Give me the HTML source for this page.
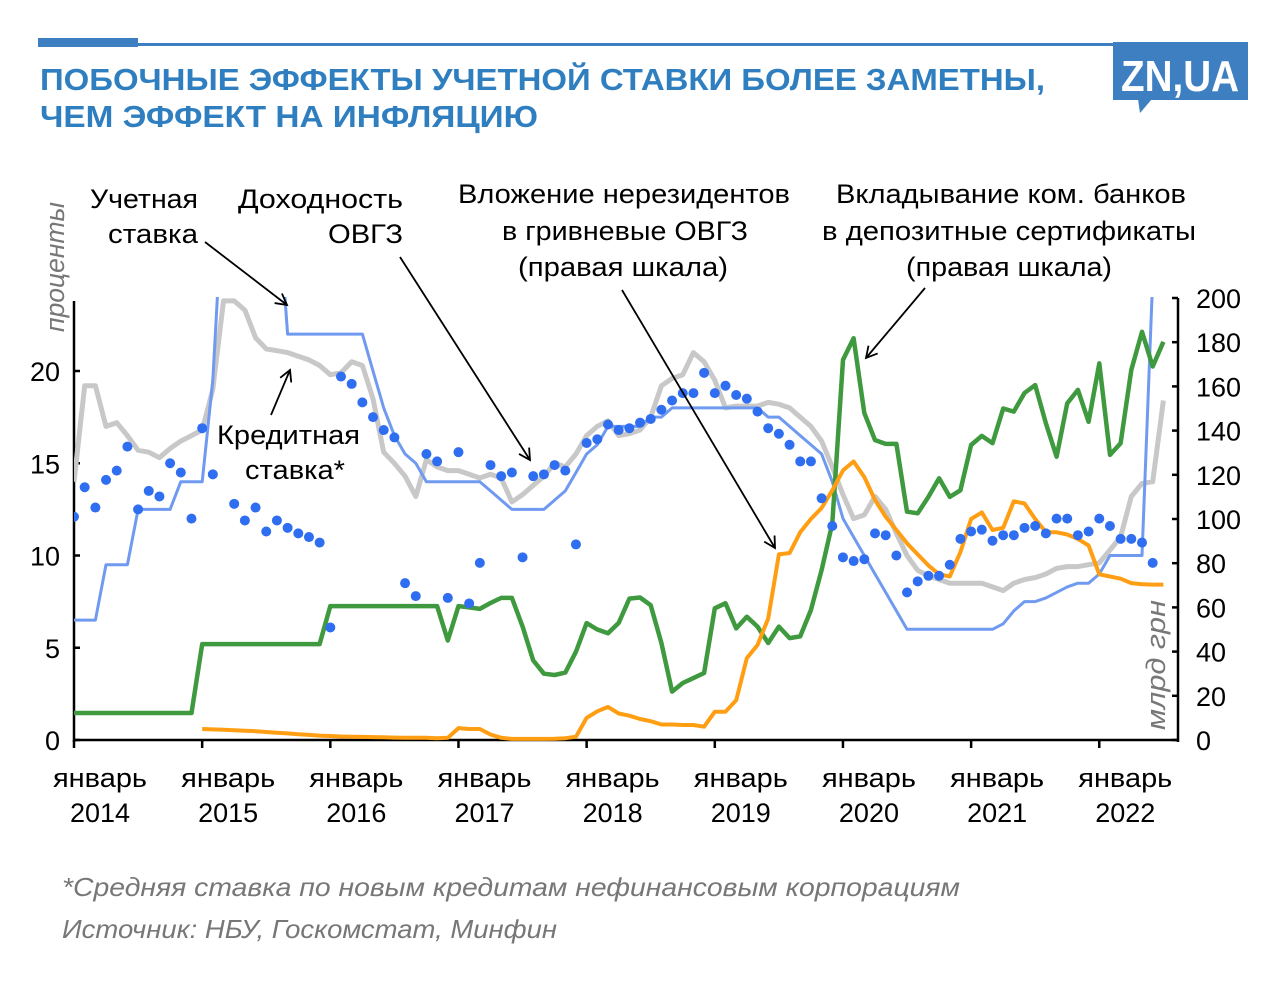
<!DOCTYPE html>
<html><head><meta charset="utf-8"><style>
body{margin:0;background:#fff;}
svg{display:block;font-family:"Liberation Sans","Noto Sans CJK SC",sans-serif;}
</style></head><body>
<svg width="1280" height="997" viewBox="0 0 1280 997">
<rect x="38" y="38" width="100" height="9" fill="#3d7fc0"/>
<rect x="138" y="43" width="976" height="3" fill="#3d7fc0"/>
<g fill="#2f7fc0" font-weight="bold" font-size="31">
<text x="40" y="90" textLength="1005" lengthAdjust="spacingAndGlyphs">ПОБОЧНЫЕ ЭФФЕКТЫ УЧЕТНОЙ СТАВКИ БОЛЕЕ ЗАМЕТНЫ,</text>
<text x="40" y="127" textLength="498" lengthAdjust="spacingAndGlyphs">ЧЕМ ЭФФЕКТ НА ИНФЛЯЦИЮ</text>
</g>
<g>
<rect x="1113" y="42" width="135" height="58" fill="#3d7fc0"/>
<polygon points="1138,99 1152,99 1140,113" fill="#3d7fc0"/>
<text x="1180" y="91" text-anchor="middle" fill="#fff" font-weight="bold" font-size="44" textLength="118" lengthAdjust="spacingAndGlyphs">ZN,UA</text>
</g>
<g id="axes" stroke="#000" stroke-width="2.5" fill="none"></g>
<g id="ticklabels" font-size="27" fill="#000"></g>
<text transform="translate(64,332) rotate(-90)" font-size="27" font-style="italic" fill="#777" textLength="130" lengthAdjust="spacingAndGlyphs">проценты</text>
<text transform="translate(1165,730) rotate(-90)" font-size="27" font-style="italic" fill="#777" textLength="130" lengthAdjust="spacingAndGlyphs">млрд грн</text>
<defs><clipPath id="plotclip"><rect x="74" y="297" width="1104" height="450"/></clipPath>
<marker id="ah" markerWidth="14" markerHeight="14" refX="12" refY="7" orient="auto" markerUnits="userSpaceOnUse"><path d="M1,1 L12,7 L1,13" fill="none" stroke="#000" stroke-width="1.8"/></marker></defs>
<g id="series" clip-path="url(#plotclip)"></g>
<g font-size="27" fill="#000" lengthAdjust="spacingAndGlyphs">
<text x="90" y="208" textLength="108" lengthAdjust="spacingAndGlyphs">Учетная</text><text x="108" y="243" textLength="90" lengthAdjust="spacingAndGlyphs">ставка</text>
<text x="238" y="208" textLength="165" lengthAdjust="spacingAndGlyphs">Доходность</text><text x="328" y="243" textLength="75" lengthAdjust="spacingAndGlyphs">ОВГЗ</text>
<text x="217" y="444" textLength="143" lengthAdjust="spacingAndGlyphs">Кредитная</text><text x="245" y="479" textLength="100" lengthAdjust="spacingAndGlyphs">ставка*</text>
<text x="458" y="203" textLength="332" lengthAdjust="spacingAndGlyphs">Вложение нерезидентов</text><text x="502" y="240" textLength="246" lengthAdjust="spacingAndGlyphs">в гривневые ОВГЗ</text><text x="518" y="276" textLength="210" lengthAdjust="spacingAndGlyphs">(правая шкала)</text>
<text x="836" y="203" textLength="350" lengthAdjust="spacingAndGlyphs">Вкладывание ком. банков</text><text x="822" y="240" textLength="374" lengthAdjust="spacingAndGlyphs">в депозитные сертификаты</text><text x="906" y="276" textLength="206" lengthAdjust="spacingAndGlyphs">(правая шкала)</text>
</g>
<g stroke="#000" stroke-width="1.8" fill="none">
<line x1="205" y1="242" x2="287" y2="305" marker-end="url(#ah)"/>
<line x1="400" y1="257" x2="530" y2="460" marker-end="url(#ah)"/>
<line x1="271" y1="415" x2="290" y2="370" marker-end="url(#ah)"/>
<line x1="622" y1="290" x2="775" y2="548" marker-end="url(#ah)"/>
<line x1="925" y1="288" x2="866" y2="358" marker-end="url(#ah)"/>
</g>
<g font-size="26" font-style="italic" fill="#777">
<text x="62" y="896" textLength="898" lengthAdjust="spacingAndGlyphs">*Средняя ставка по новым кредитам нефинансовым корпорациям</text>
<text x="62" y="938" textLength="495" lengthAdjust="spacingAndGlyphs">Источник: НБУ, Госкомстат, Минфин</text>
</g>
</svg>
<script>
const policyRate=[6.5,6.5,6.5,9.5,9.5,9.5,12.5,12.5,12.5,12.5,14,14,
14,19.5,30,30,30,30,30,30,22,22,22,22,
22,22,22,22,20,18,16.5,15.5,15,14,14,14,
14,14,14,13.5,13,12.5,12.5,12.5,12.5,13,13.5,14.5,
15.5,16,17,17,17,17,17.5,17.5,18,18,18,18,
18,18,18,18,18,17.5,17.5,17,16.5,16,15.5,14,
12,11,10,9,8,7,6,6,6,6,6,6,
6,6,6,6.3,7,7.5,7.5,7.7,8,8.3,8.5,8.5,
9,10,10,10,10,25,25];
const creditRate=[14,19.2,19.2,17,17.2,16.5,15.7,15.6,15.3,15.8,16.2,16.5,16.8,19,23.8,23.8,23.3,21.8,21.2,21.1,21,20.8,20.6,20.3,19.8,19.9,20.5,20.3,18.5,15.6,15,14.3,13.2,15.2,14.8,14.6,14.6,14.4,14.2,14.4,14.2,12.9,13.3,13.8,14.3,15,14.8,15.5,16.5,17,17.3,
16.5,16.6,16.8,17.5,19.2,19.6,19.8,21,20.5,19.5,18,18.1,18.1,18.1,18.3,18.2,18,17.5,17,16.2,14.8,13.3,12,12.2,13.2,12.5,11.2,10,9.2,8.9,8.7,8.5,8.5,8.5,8.5,8.3,8.1,8.5,8.7,8.8,9,9.3,9.4,9.4,9.5,9.6,10.3,11,13.2,13.9,14,18.4];
const bondYield=[12.1,13.7,12.6,14.1,14.6,15.9,12.5,13.5,13.2,15.0,14.5,12.0,16.9,14.4,null,12.8,11.9,12.6,11.3,11.9,11.5,11.2,11.0,10.7,6.1,19.7,19.3,18.3,17.5,16.8,16.4,8.5,7.8,15.5,15.1,7.7,15.6,7.4,9.6,14.9,14.3,14.5,9.9,14.3,14.4,14.9,14.6,10.6,16.1,16.3,17.1,
16.8,16.9,17.2,17.4,17.9,18.4,18.8,18.8,19.9,18.8,19.2,18.7,18.5,17.8,16.9,16.6,16.0,15.1,15.1,13.1,11.6,9.9,9.7,9.8,11.2,11.1,10.0,8.0,8.6,8.9,8.9,9.5,10.9,11.3,11.4,10.8,11.1,11.1,11.5,11.6,11.2,12.0,12.0,11.1,11.3,12.0,11.6,10.9,10.9,10.7,9.6];
const depositCerts=[12.2,12.2,12.2,12.2,12.2,12.2,12.2,12.2,12.2,12.2,12.2,12.2,
43.4,43.4,43.4,43.4,43.4,43.4,43.4,43.4,43.4,43.4,43.4,43.4,
60.6,60.6,60.6,60.6,60.6,60.6,60.6,60.6,60.6,60.6,60.6,45,60.6,60,59.3,62,64.3,64.3,51.3,36,30,29.4,30.5,40,52.9,50,48.3,
53,64,64.5,61,43.9,21.9,25.8,28,30.3,59.6,61.9,50.5,55.8,51.3,43.9,51.3,46.1,46.9,58.8,76.9,98,172,181.8,148,135.7,134,134,103.3,102.6,110,118.4,110,113,133.5,137.6,134.3,150,148.6,157,160.6,143.3,128.2,152.3,158.4,144,170.4,129,134.3,167.4,184.7,169,180.2];
const orangeStart=12;
const nonresBonds=[5,4.8,4.6,4.4,4.2,4,3.6,3.3,3,2.6,2.3,2,1.8,1.6,1.5,1.4,1.3,1.2,1.1,1,1,1,0.8,1,5.4,5,5,2.5,1,0.5,0.5,0.5,0.5,0.6,0.8,1.5,10,13,15,12,11,9.5,8.5,7,7,6.8,6.8,6,12.8,12.8,18,37,43,55,84,84.6,94,100,105,113,122,126,119,108.6,101,95,89,84,79,75,74,85,100,103,95,96,108,107,100,94,94,93,91,88,75,74,73,71,70.5,70.3,70.3];
const leftTicks=[0,5,10,15,20];
const rightTicks=[0,20,40,60,80,100,120,140,160,180,200];
const yearLabels=["2014","2015","2016","2017","2018","2019","2020","2021","2022"];

const NS="http://www.w3.org/2000/svg";
const X0=74,MW=10.68,Y0=740;
const xS=t=>X0+t*MW;
const yL=v=>Y0-v*18.45;
const yR=v=>Y0-v*2.21;
function mk(tag,attrs,parent){const e=document.createElementNS(NS,tag);for(const k in attrs)e.setAttribute(k,attrs[k]);parent.appendChild(e);return e;}
const axes=document.getElementById('axes'),tl=document.getElementById('ticklabels'),ser=document.getElementById('series');

let e=mk('line',{x1:X0,y1:yL(20)-70,x2:X0,y2:Y0+2},axes);


e=mk('line',{x1:1178,y1:yR(200),x2:1178,y2:Y0+2},axes);


e=mk('line',{x1:X0,y1:Y0,x2:1178,y2:Y0},axes);


leftTicks.forEach(v=>{
  mk('line',{x1:X0,y1:yL(v),x2:X0+6,y2:yL(v)},axes);
  const t=mk('text',{x:60,y:yL(v)+10,'text-anchor':'end'},tl);t.textContent=v;
  
  
});
rightTicks.forEach(v=>{
  mk('line',{x1:1172,y1:yR(v),x2:1178,y2:yR(v)},axes);
  const t=mk('text',{x:1196,y:yR(v)+10,'text-anchor':'start'},tl);t.textContent=v;
  
  
});
yearLabels.forEach((y,i)=>{
  const x=xS(i*12);
  mk('line',{x1:x,y1:Y0,x2:x,y2:Y0+8},axes);
  const g=mk('text',{x:x-21,y:787,textLength:94,lengthAdjust:'spacingAndGlyphs'},tl);g.textContent='январь';
  
  
  const h=mk('text',{x:x+26,y:822,'text-anchor':'middle'},tl);h.textContent=y;
  
  
});
function line(arr,start,yf,color,w,name){
  const pts=arr.map((v,i)=>xS(start+i).toFixed(1)+','+yf(v).toFixed(1)).join(' ');
  const p=mk('polyline',{points:pts,fill:'none',stroke:color,'stroke-width':w,'stroke-linejoin':'round'},ser);
  
  
}
line(creditRate,0,yL,'#c8c8c8',5,'credit-rate-line');
line(policyRate,0,yL,'#6f9af0',3,'policy-rate-line');
line(depositCerts,0,yR,'#3f9a3f',4.5,'deposit-certificates-line');
line(nonresBonds,orangeStart,yR,'#ff9e12',4,'nonresident-bonds-line');
bondYield.forEach((v,i)=>{
  if(v==null)return;
  const c=mk('circle',{cx:xS(i),cy:yL(v),r:5,fill:'#2f6ef0'},ser);
  
  
});
</script>
</body></html>
